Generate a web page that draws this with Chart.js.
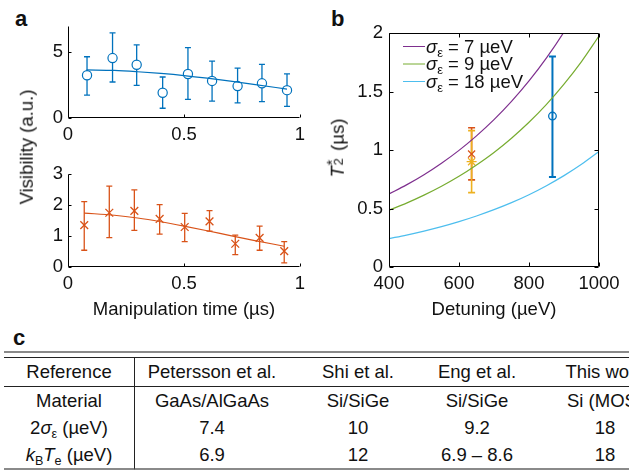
<!DOCTYPE html>
<html>
<head>
<meta charset="utf-8">
<script src="https://cdn.jsdelivr.net/npm/chart.js@4.4.0/dist/chart.umd.min.js"></script>
<style>
  body { margin: 0; width: 629px; height: 473px; overflow: hidden; background: #fff; position: relative;
         font-family: 'Liberation Sans', Arial, Helvetica, sans-serif; color: #111; }
  canvas { position: absolute; }
  .panel { position: absolute; font-weight: bold; font-size: 22px; line-height: 1; }
  .ytitle { position: absolute; font-size: 18.5px; white-space: nowrap; line-height: 1;
            transform: translate(-50%, -50%) rotate(-90deg); }
  #tableC { position: absolute; left: 4px; top: 351px; }
  #tableC .dbl { width: 700px; border-top: 2px solid #8a8a8a; height: 4px; }
  #tableC table { border-collapse: separate; border-spacing: 0; font-size: 18.5px; table-layout: fixed; }
  #tableC td { padding: 0; height: 27px; text-align: center; vertical-align: middle; white-space: nowrap; }
  #tableC tr.hd td { height: 28px; border-top: 1px solid #222; border-bottom: 1px solid #222; }
  #tableC tr.last td { border-bottom: 2px solid #8a8a8a; }
  #tableC td.first { border-right: 1px solid #222; }
  sub { font-size: 0.68em; line-height: 0; vertical-align: -0.3em; }
</style>
</head>
<body>

<div class="panel" style="left:15px; top:8px;">a</div>
<div class="panel" style="left:331px; top:8px;">b</div>
<div class="panel" style="left:13px; top:327px;">c</div>

<canvas id="chartTop" width="320" height="150" style="left:0; top:0;"></canvas>
<canvas id="chartBottom" width="320" height="171" style="left:0; top:150px;"></canvas>
<canvas id="chartB" width="309" height="321" style="left:320px; top:0;"></canvas>

<div class="ytitle" style="left:27px; top:147px;">Visibility (a.u.)</div>
<div class="ytitle" style="left:338px; top:148px;"><i>T</i><span style="position:relative; display:inline-block; width:0.55em;"><span style="position:absolute; left:0.05em; top:0.3em; font-size:0.7em;">2</span><span style="position:absolute; left:0.05em; top:-0.25em; font-size:0.8em;">*</span>&nbsp;</span> (µs)</div>

<div id="tableC">
  <div class="dbl"></div>
  <table id="tbl"></table>
</div>

<script>
// Panel a, oben: Sichtbarkeit (Kreise) mit Fehlerbalken
const timeTop = [0.082, 0.192, 0.296, 0.408, 0.517, 0.621, 0.731, 0.836, 0.944];
const visTop = [3.25, 4.56, 4.05, 1.92, 3.35, 2.82, 2.43, 2.64, 2.12];
const visTopHi = [4.66, 6.48, 5.56, 3.12, 5.35, 4.33, 3.79, 4.08, 3.35];
const visTopLo = [1.74, 2.74, 2.48, 0.74, 1.41, 1.28, 1.15, 1.25, 0.89];
const fitTopTime = [0.08, 0.2, 0.3, 0.4, 0.5, 0.6, 0.7, 0.8, 0.944];
const fitTopVis = [3.66, 3.62, 3.52, 3.39, 3.23, 3.03, 2.80, 2.56, 2.20];

// Panel a, unten: Sichtbarkeit (Kreuze)
const timeBottom = [0.070, 0.178, 0.286, 0.395, 0.503, 0.610, 0.721, 0.826, 0.932];
const visBottom = [1.35, 1.75, 1.81, 1.55, 1.29, 1.47, 0.75, 0.94, 0.51];
const visBottomHi = [2.11, 2.61, 2.49, 2.01, 1.73, 1.82, 1.03, 1.32, 0.82];
const visBottomLo = [0.54, 0.95, 1.18, 1.06, 0.82, 1.16, 0.40, 0.54, 0.13];
const fitBottomTime = [0.07, 0.2, 0.3, 0.4, 0.5, 0.6, 0.7, 0.8, 0.932];
const fitBottomVis = [1.74, 1.67, 1.58, 1.46, 1.32, 1.17, 1.01, 0.86, 0.67];

const timeTicks = [0, 0.5, 1];
const visTopTicks = [0, 5];
const visBottomTicks = [0, 1, 2, 3];

// Panel b: T2* gegen Detuning
const detuningGrid = [400, 450, 500, 550, 600, 650, 700, 750, 800, 850, 900, 950, 1000];
const t2Sigma7 = [0.625, 0.702, 0.789, 0.887, 0.997, 1.121, 1.259, 1.415, 1.590, 1.787, 2.009, 2.258, 2.537];
const t2Sigma9 = [0.486, 0.546, 0.614, 0.690, 0.775, 0.872, 0.979, 1.101, 1.237, 1.390, 1.563, 1.756, 1.974];
const t2Sigma18 = [0.243, 0.273, 0.307, 0.345, 0.388, 0.436, 0.490, 0.550, 0.618, 0.695, 0.781, 0.878, 0.987];
const sigmaValues = [7, 9, 18];

const measDetuning = [867, 636, 636];
const measT2 = [1.29, 0.965, 0.90];
const measT2Hi = [1.80, 1.19, 1.166];
const measT2Lo = [0.77, 0.745, 0.636];

const detuningTicks = [400, 600, 800, 1000];
const t2Ticks = [0, 0.5, 1, 1.5, 2];

// Panel c: Tabelle
const tableHeader = ['Reference', 'Petersson et al.', 'Shi et al.', 'Eng et al.', 'This work'];
const tableMaterial = ['GaAs/AlGaAs', 'Si/SiGe', 'Si/SiGe', 'Si (MOS)'];
const tableSigma = ['7.4', '10', '9.2', '18'];
const tableKT = ['6.9', '12', '6.9 – 8.6', '18'];
const tableColWidths = [131, 154, 138, 100, 156];

// Farben (MATLAB-Standard)
const blue = '#0072BD', orange = '#D95319', yellow = '#EDB120';
const purple = '#7E2F8E', green = '#77AC30', cyan = '#4DBEEE';

const FONT_SIZE = 18.5;
Chart.defaults.font.family = "'Liberation Sans', Arial, Helvetica, sans-serif";
Chart.defaults.font.size = FONT_SIZE;
Chart.defaults.color = '#111';

const toXY = (xs, ys) => xs.map((x, i) => ({ x: x, y: ys[i] }));

// Fehlerbalken vor den Markern zeichnen
const errorBarPlugin = {
    id: 'errorBars',
    beforeDatasetsDraw(chart) {
        const ctx = chart.ctx;
        const xs = chart.scales.x, ys = chart.scales.y;
        chart.data.datasets.forEach(ds => {
            if (!ds.errLo) return;
            const cap = ds.capHalf || 3;
            ctx.save();
            ctx.strokeStyle = ds.borderColor;
            ctx.lineWidth = ds.errWidth || 1.3;
            ds.data.forEach((p, i) => {
                const px = xs.getPixelForValue(p.x);
                const yl = ys.getPixelForValue(ds.errLo[i]);
                const yh = ys.getPixelForValue(ds.errHi[i]);
                ctx.beginPath();
                ctx.moveTo(px, yl); ctx.lineTo(px, yh);
                ctx.moveTo(px - cap, yl); ctx.lineTo(px + cap, yl);
                ctx.moveTo(px - cap, yh); ctx.lineTo(px + cap, yh);
                ctx.stroke();
            });
            ctx.restore();
        });
    }
};

// Achsenlinien und nach innen zeigende Ticks (wie MATLAB)
const axesPlugin = {
    id: 'inAxes',
    afterDraw(chart, args, opts) {
        const { ctx, chartArea: a } = chart;
        const xs = chart.scales.x, ys = chart.scales.y;
        const len = opts.len || 3;
        const L = Math.round(a.left) + 0.5, R = Math.round(a.right) - 0.5;
        const T = Math.round(a.top) + 0.5, B = Math.round(a.bottom) - 0.5;
        ctx.save();
        ctx.strokeStyle = '#000';
        ctx.lineWidth = 1;
        ctx.beginPath();
        ctx.moveTo(L, T); ctx.lineTo(L, B); ctx.lineTo(R, B);
        if (opts.box) { ctx.lineTo(R, T); ctx.lineTo(L, T); }
        xs.ticks.forEach(t => {
            const px = Math.round(xs.getPixelForValue(t.value)) + 0.5;
            ctx.moveTo(px, B); ctx.lineTo(px, B - len);
            if (opts.box) { ctx.moveTo(px, T); ctx.lineTo(px, T + len); }
        });
        ys.ticks.forEach(t => {
            const py = Math.round(ys.getPixelForValue(t.value)) + 0.5;
            ctx.moveTo(L, py); ctx.lineTo(L + len, py);
            if (opts.box) { ctx.moveTo(R, py); ctx.lineTo(R - len, py); }
        });
        ctx.stroke();
        ctx.restore();
    }
};

// Legende mit tiefgestelltem Epsilon
const sigmaLegendPlugin = {
    id: 'sigmaLegend',
    afterDraw(chart, args, opts) {
        if (!opts.items) return;
        const { ctx, chartArea: a } = chart;
        const fam = Chart.defaults.font.family;
        ctx.save();
        ctx.textBaseline = 'alphabetic';
        opts.items.forEach((it, i) => {
            const yc = a.top + 13.5 + i * 17.5;
            ctx.strokeStyle = it.color;
            ctx.lineWidth = 1;
            ctx.beginPath();
            ctx.moveTo(a.left + 14, yc); ctx.lineTo(a.left + 36, yc);
            ctx.stroke();
            let x = a.left + 37;
            const base = yc + 6;
            ctx.fillStyle = '#111';
            ctx.font = 'italic ' + FONT_SIZE + 'px ' + fam;
            ctx.fillText('σ', x, base);
            x += ctx.measureText('σ').width;
            ctx.font = '13px ' + fam;
            ctx.fillText('ε', x, base + 4);
            x += ctx.measureText('ε').width;
            ctx.font = FONT_SIZE + 'px ' + fam;
            ctx.fillText(' = ' + it.value + ' µeV', x, base);
        });
        ctx.restore();
    }
};

function scaleOpts(min, max, tickList, size, pad, title) {
    return {
        type: 'linear', min: min, max: max,
        afterBuildTicks: s => { s.ticks = tickList.map(v => ({ value: v })); },
        afterFit: s => { if (s.isHorizontal()) s.height = size; else s.width = size; },
        grid: { display: false, drawTicks: false },
        border: { display: false },
        ticks: { padding: pad, color: '#111', font: { size: FONT_SIZE }, callback: v => String(v) },
        title: title ? { display: true, text: title, color: '#111', font: { size: FONT_SIZE }, padding: 0 } : { display: false }
    };
}

function baseOptions(padding, xScale, yScale, axesOpts, extraPlugins) {
    return {
        responsive: false,
        animation: false,
        devicePixelRatio: 1,
        layout: { padding: padding },
        plugins: Object.assign({
            legend: { display: false },
            tooltip: { enabled: false },
            inAxes: axesOpts
        }, extraPlugins || {}),
        scales: { x: xScale, y: yScale }
    };
}

// Panel a oben
new Chart(document.getElementById('chartTop'), {
    type: 'scatter',
    data: {
        datasets: [
            { type: 'line', data: toXY(fitTopTime, fitTopVis), borderColor: blue, borderWidth: 1.2,
              pointRadius: 0, cubicInterpolationMode: 'monotone', fill: false },
            { data: toXY(timeTop, visTop), errLo: visTopLo, errHi: visTopHi, borderColor: blue,
              pointStyle: 'circle', pointRadius: 4.6, pointBorderWidth: 1.2,
              pointBorderColor: blue, pointBackgroundColor: '#fff', capHalf: 3 }
        ]
    },
    options: baseOptions({ top: 26, right: 20, left: 0, bottom: 0 },
        scaleOpts(0, 1, timeTicks, 32, 6),
        scaleOpts(0, 7, visTopTicks, 68, 5),
        { len: 3, box: false }),
    plugins: [errorBarPlugin, axesPlugin]
});

// Panel a unten
new Chart(document.getElementById('chartBottom'), {
    type: 'scatter',
    data: {
        datasets: [
            { type: 'line', data: toXY(fitBottomTime, fitBottomVis), borderColor: orange, borderWidth: 1.2,
              pointRadius: 0, cubicInterpolationMode: 'monotone', fill: false },
            { data: toXY(timeBottom, visBottom), errLo: visBottomLo, errHi: visBottomHi, borderColor: orange,
              pointStyle: 'crossRot', pointRadius: 5.5, pointBorderWidth: 1.3,
              pointBorderColor: orange, capHalf: 3 }
        ]
    },
    options: baseOptions({ top: 24, right: 20, left: 0, bottom: 0 },
        scaleOpts(0, 1, timeTicks, 54, 6, 'Manipulation time (µs)'),
        scaleOpts(0, 3, visBottomTicks, 68, 5),
        { len: 3, box: false }),
    plugins: [errorBarPlugin, axesPlugin]
});

// Panel b
new Chart(document.getElementById('chartB'), {
    type: 'scatter',
    data: {
        datasets: [
            { type: 'line', data: toXY(detuningGrid, t2Sigma7), borderColor: purple, borderWidth: 1.2,
              pointRadius: 0, cubicInterpolationMode: 'monotone', fill: false },
            { type: 'line', data: toXY(detuningGrid, t2Sigma9), borderColor: green, borderWidth: 1.2,
              pointRadius: 0, cubicInterpolationMode: 'monotone', fill: false },
            { type: 'line', data: toXY(detuningGrid, t2Sigma18), borderColor: cyan, borderWidth: 1.2,
              pointRadius: 0, cubicInterpolationMode: 'monotone', fill: false },
            { data: [{ x: measDetuning[0], y: measT2[0] }], errLo: [measT2Lo[0]], errHi: [measT2Hi[0]],
              borderColor: blue, pointStyle: 'circle', pointRadius: 3.8, pointBorderWidth: 1.3,
              pointBorderColor: blue, pointBackgroundColor: 'rgba(255,255,255,0)', errWidth: 2, capHalf: 3.5 },
            { data: [{ x: measDetuning[1], y: measT2[1] }], errLo: [measT2Lo[1]], errHi: [measT2Hi[1]],
              borderColor: orange, pointStyle: 'crossRot', pointRadius: 5, pointBorderWidth: 1.3,
              pointBorderColor: orange, errWidth: 1.6, capHalf: 3.5 },
            { data: [{ x: measDetuning[2], y: measT2[2] }], errLo: [measT2Lo[2]], errHi: [measT2Hi[2]],
              borderColor: yellow, pointStyle: 'star', pointRadius: 5, pointBorderWidth: 1.3,
              pointBorderColor: yellow, errWidth: 1.6, capHalf: 3.5 }
        ]
    },
    options: baseOptions({ top: 33, right: 30, left: 0, bottom: 0 },
        scaleOpts(400, 1000, detuningTicks, 54, 6, 'Detuning (µeV)'),
        scaleOpts(0, 2, t2Ticks, 69, 6),
        { len: 4, box: true },
        { sigmaLegend: { items: sigmaValues.map((v, i) => ({ value: v, color: [purple, green, cyan][i] })) } }),
    plugins: [errorBarPlugin, axesPlugin, sigmaLegendPlugin]
});

// Panel c: Tabelle aus den Arrays aufbauen
const rowLabels = [
    'Material',
    '2<i>σ</i><sub>ε</sub> (µeV)',
    '<i>k</i><sub>B</sub><i>T</i><sub>e</sub> (µeV)'
];
const rows = [tableMaterial, tableSigma, tableKT];
const tbl = document.getElementById('tbl');
const colgroup = document.createElement('colgroup');
tableColWidths.forEach(w => {
    const col = document.createElement('col');
    col.style.width = w + 'px';
    colgroup.appendChild(col);
});
tbl.appendChild(colgroup);
const hd = document.createElement('tr');
hd.className = 'hd';
tableHeader.forEach((h, i) => {
    const td = document.createElement('td');
    td.textContent = h;
    if (i === 0) td.className = 'first';
    hd.appendChild(td);
});
tbl.appendChild(hd);
rows.forEach((vals, r) => {
    const tr = document.createElement('tr');
    if (r === rows.length - 1) tr.className = 'last';
    const th = document.createElement('td');
    th.className = 'first';
    th.innerHTML = rowLabels[r];
    tr.appendChild(th);
    vals.forEach(v => {
        const td = document.createElement('td');
        td.textContent = v;
        tr.appendChild(td);
    });
    tbl.appendChild(tr);
});
</script>
</body>
</html>
